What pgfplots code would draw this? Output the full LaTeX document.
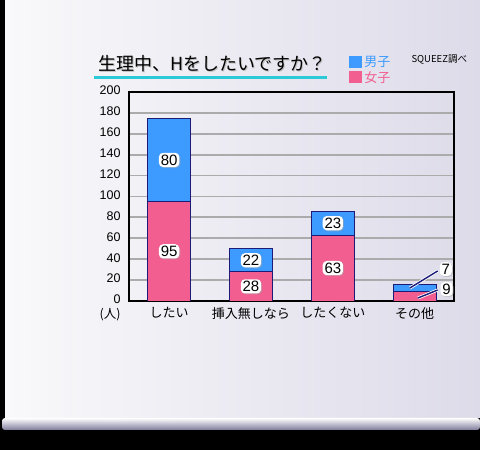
\documentclass[border=0pt]{standalone}
\usepackage{pgfplots}
\pgfplotsset{compat=1.18}
\usepackage{fontspec}
\setmainfont{Liberation Sans}
\newfontfamily\jp{Noto Sans CJK JP}
\usetikzlibrary{shadows}

\definecolor{male}{HTML}{3D9BFF}
\definecolor{female}{HTML}{F25E8F}
\definecolor{edge}{HTML}{1C1C78}
\definecolor{gridc}{HTML}{ABABAB}
\definecolor{uline}{HTML}{2CC9D9}
\definecolor{boardL}{HTML}{F9F9FB}
\definecolor{boardR}{HTML}{DDDBE9}
\definecolor{trayD}{HTML}{7E7C9C}

\tikzset{
  barlabel/.style={font=\fontsize{15}{17}\selectfont, fill=white, rounded corners=4pt,
    inner sep=1.8pt, text=black, anchor=center,
    drop shadow={shadow xshift=1pt, shadow yshift=-1pt, fill=black!35}},
}
\pgfplotsset{
  frame/.style={at={(129pt,149pt)}, anchor=south west, scale only axis,
    width=325pt, height=209pt, xmin=-0.49, xmax=3.48, ymin=0, ymax=200},
}

\begin{document}
\begin{tikzpicture}[x=1pt,y=1pt]
\path[use as bounding box] (0,0) rectangle (480,450);
% board
\fill[black] (0,0) rectangle (480,450);
\shade[left color=boardL, right color=boardR] (5,32) rectangle (480,450);
\shade[top color=white, bottom color=trayD] (2,20) [rounded corners=3pt] rectangle (480,32);

% title
\node[anchor=west, text=black!25, font=\jp\fontsize{18}{20}\selectfont] at (95.8,385.2) {生理中、Hをしたいですか？};
\node[anchor=west, font=\jp\fontsize{18}{20}\selectfont] at (94.5,386.5) {生理中、Hをしたいですか？};
\draw[uline, line width=3pt] (94,372) -- (327,372);
\node[anchor=west, font=\jp\fontsize{9.5}{11}\selectfont] at (408,390) {SQUEEZ調べ};
\node[font=\jp\fontsize{12.5}{14}\selectfont] at (110,135) {(人)};

\begin{axis}[frame,
  ybar stacked, bar width=43pt,
  axis line style={line width=2.4pt},
  ymajorgrids, major grid style={gridc, line width=1.8pt},
  major tick length=0pt,
  ytick={0,20,...,200},
  xtick={0,1,2,3},
  xticklabels={したい, 挿入無しなら, したくない, その他},
  xticklabel style={font=\jp\fontsize{13}{15}\selectfont, yshift=-3pt},
  yticklabel style={font=\fontsize{12.5}{14}\selectfont, xshift=-5pt, yshift=1.5pt},
  /pgf/number format/assume math mode=true,
  reverse legend,
  legend style={at={(0.668,1.19)}, anchor=north west, draw=none, fill=none,
    font=\jp\fontsize{13}{15}\selectfont, row sep=-1pt},
  legend cell align=left,
  legend image code/.code={\path[#1, draw=none] (0pt,-6pt) rectangle (13pt,6.5pt);},
]
\addplot[fill=female, draw=edge, line width=0.8pt] coordinates {(0,95) (1,28) (2,63) (3,9)};
\addlegendentry{\textcolor{female}{女子}}
\addplot[fill=male, draw=edge, line width=0.8pt] coordinates {(0,80) (1,22) (2,23) (3,7)};
\addlegendentry{\textcolor{male}{男子}}
\end{axis}

% value labels
\begin{axis}[frame, hide axis]
\draw[white, line width=3pt] (axis cs:2.94,12.4) -- (axis cs:3.28,28.7);
\draw[edge, line width=1.4pt] (axis cs:2.94,12.4) -- (axis cs:3.28,28.7);
\draw[white, line width=3pt] (axis cs:3.04,2.9) -- (axis cs:3.28,10.5);
\draw[edge, line width=1.4pt] (axis cs:3.04,2.9) -- (axis cs:3.28,10.5);
\addplot[draw=none, mark=none, nodes near coords, point meta=explicit symbolic,
  nodes near coords style={barlabel}] coordinates {
  (0,47.5) [95] (0,135) [80]
  (1,14) [28] (1,39) [22]
  (2,31.5) [63] (2,74.5) [23]
  (3.38,30.6) [7] (3.39,11.5) [9]
};
\end{axis}
\end{tikzpicture}
\end{document}
